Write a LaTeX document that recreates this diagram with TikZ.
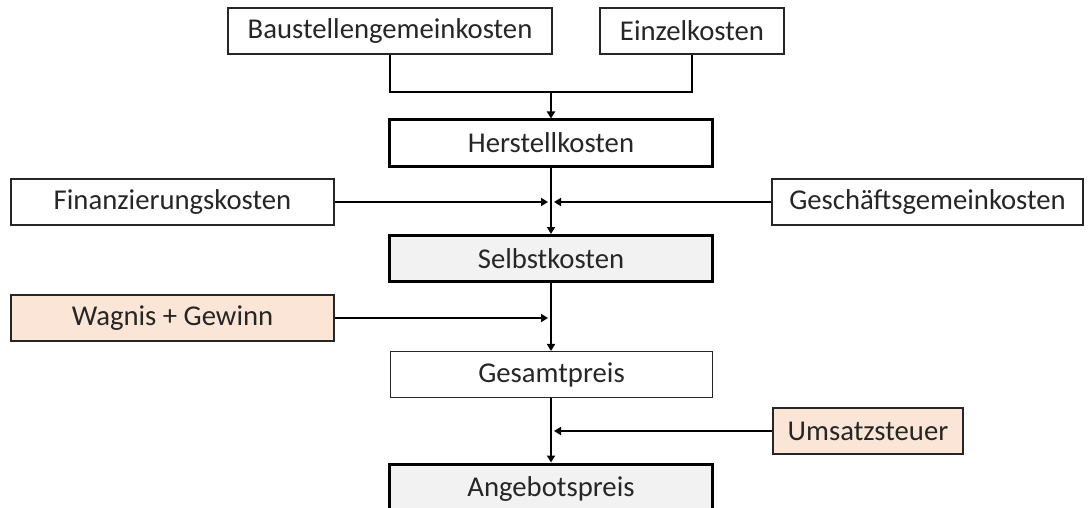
\documentclass[tikz,border=0pt]{standalone}
\usepackage{fontspec}
\setmainfont{Carlito}
\usetikzlibrary{arrows.meta}
\definecolor{boxgray}{HTML}{F2F2F2}
\definecolor{peach}{HTML}{FBE5D6}
\definecolor{inkline}{HTML}{262626}
\tikzset{
  base/.style={rectangle, draw=inkline, line width=1.1pt, inner sep=0pt,
    minimum height=46pt, font=\fontsize{28.7}{32}\selectfont, text=inkline},
  thick box/.style={base, draw=black, line width=3pt},
  link/.style={line width=2.2pt, black},
  arr/.style={link, -{Triangle[width=8pt,length=7pt]}},
}
\begin{document}
\begin{tikzpicture}[x=1pt,y=-1pt]
\clip (0,0) rectangle (1089,508);
\fill[white] (0,0) rectangle (1089,508);

% cost components
\node[base, minimum width=324pt] (baus) at (390,31) {Baustellengemeinkosten};
\node[base, minimum width=184pt] (einz) at (692,31) {Einzelkosten};
\node[thick box, minimum width=323pt] (herst) at (551,143) {Herstellkosten};
\node[base, minimum width=323pt] (fin) at (172.5,202) {Finanzierungskosten};
\node[base, minimum width=311pt] (gesch) at (927.5,202) {Geschäftsgemeinkosten};
\node[thick box, fill=boxgray, minimum width=323pt] (selbst) at (551,258.5) {Selbstkosten};
\node[base, fill=peach, minimum width=323pt] (wagnis) at (172.5,318) {Wagnis + Gewinn};
\node[base, minimum width=322pt] (gesamt) at (551.5,374.5) {Gesamtpreis};
\node[base, fill=peach, minimum width=190pt] (umsatz) at (868,431) {Umsatzsteuer};
\node[thick box, fill=boxgray, minimum width=323pt, minimum height=50pt] (angebot) at (551,489) {Angebotspreis};

% junction points on the main line
\coordinate (j0) at (551,92);
\coordinate (jl1) at (548,202);
\coordinate (jr1) at (554,202);
\coordinate (jl2) at (548,318);
\coordinate (jr3) at (554,431);

% connectors
\draw[link] (baus.south) -- (baus.south |- j0) -- (einz.south |- j0) -- (einz.south);
\draw[arr] (j0) -- (herst.north);
\draw[arr] (herst.south) -- (selbst.north);
\draw[arr] (fin.east) -- (jl1);
\draw[arr] (gesch.west) -- (jr1);
\draw[arr] (selbst.south) -- (gesamt.north -| selbst.south);
\draw[arr] (wagnis.east) -- (jl2);
\draw[arr] (gesamt.south -| selbst.south) -- (angebot.north);
\draw[arr] (umsatz.west) -- (jr3);
\end{tikzpicture}
\end{document}
